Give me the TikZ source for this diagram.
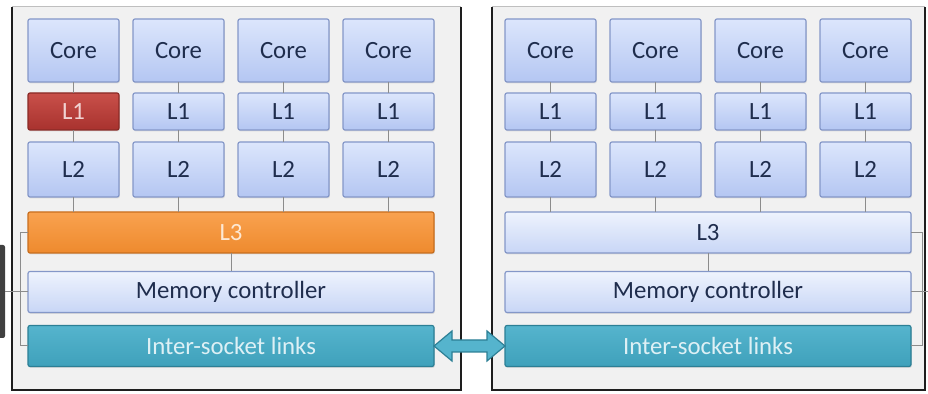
\documentclass[tikz,border=0pt]{standalone}
\usepackage{fontspec}
\setmainfont{Carlito}
\usetikzlibrary{positioning,calc,shadows}
\definecolor{boxtop}{HTML}{DCE6FC}
\definecolor{boxbot}{HTML}{B4C6F2}
\definecolor{boxedge}{HTML}{8497C8}
\definecolor{boxtext}{HTML}{1F2D4D}
\definecolor{paletop}{HTML}{EEF3FD}
\definecolor{palebot}{HTML}{C8D6F6}
\definecolor{hottop}{HTML}{C9504A}
\definecolor{hotbot}{HTML}{A8322E}
\definecolor{hotedge}{HTML}{8A2A26}
\definecolor{warmtop}{HTML}{F9A24F}
\definecolor{warmbot}{HTML}{EE8A2E}
\definecolor{warmedge}{HTML}{C86E1E}
\definecolor{linktop}{HTML}{55B4CD}
\definecolor{linkbot}{HTML}{3FA1BB}
\definecolor{linkedge}{HTML}{2C7F95}
\definecolor{panelbg}{HTML}{F1F1F1}
\definecolor{paneledge}{HTML}{1E1E1E}
\definecolor{wirecol}{HTML}{8C8C8C}

\begin{document}
\begin{tikzpicture}[x=0.5pt,y=-0.5pt,
  unit/.style={draw=boxedge,line width=0.6pt,top color=boxtop,bottom color=boxbot,
    text=boxtext,rounded corners=1pt,inner sep=0pt,outer sep=0pt,minimum width=45.5pt,
    font=\fontsize{12.4}{14}\selectfont,
    drop shadow={shadow xshift=0.4pt,shadow yshift=-0.7pt,opacity=0.2}},
  core/.style={unit,minimum height=31.5pt},
  lone/.style={unit,minimum height=18.5pt},
  ltwo/.style={unit,minimum height=27.5pt},
  wide/.style={unit,minimum width=203pt,minimum height=20.5pt},
  pale/.style={top color=paletop,bottom color=palebot},
  hot/.style={draw=hotedge,top color=hottop,bottom color=hotbot,text=hottop!25!white},
  warm/.style={draw=warmedge,top color=warmtop,bottom color=warmbot,text=warmtop!25!white},
  link/.style={draw=linkedge,top color=linktop,bottom color=linkbot,text=linktop!20!white},
  wire/.style={draw=wirecol,line width=0.5pt},
  dimm/.style={fill=black!75,rounded corners=1pt,minimum width=5pt,minimum height=46.5pt,inner sep=0pt},
  linkarrow/.style={draw=linkedge,fill=linktop,line width=0.6pt,line join=miter}]
\useasboundingbox (0,0) rectangle (928,394);
% sockets
\fill[panelbg] (12,7) rectangle (461,390);
\fill[panelbg] (492,7) rectangle (925,390);
\draw[black!25,line width=0.5pt] (12,7) -- (461,7) (492,7) -- (925,7);
\draw[paneledge,line width=1.4pt] (12,7) -- (12,390) -- (461,390) -- (461,7);
\draw[paneledge,line width=1.4pt] (492,7) -- (492,390) -- (925,390) -- (925,7);
\node[dimm] (dimm-a) at (0,291.5) {};
\coordinate (dimm-b) at (928,294);
%
% left socket
\node[core] (core-a1) at (73.5,50.5) {Core};
\node[core,right=7pt of core-a1] (core-a2) {Core};
\node[core,right=7pt of core-a2] (core-a3) {Core};
\node[core,right=7pt of core-a3] (core-a4) {Core};
\node[lone,hot,below=5.5pt of core-a1] (l1-a1) {L1};
\node[lone,below=5.5pt of core-a2] (l1-a2) {L1};
\node[lone,below=5.5pt of core-a3] (l1-a3) {L1};
\node[lone,below=5.5pt of core-a4] (l1-a4) {L1};
\node[ltwo,below=6pt of l1-a1] (l2-a1) {L2};
\node[ltwo,below=6pt of l1-a2] (l2-a2) {L2};
\node[ltwo,below=6pt of l1-a3] (l2-a3) {L2};
\node[ltwo,below=6pt of l1-a4] (l2-a4) {L2};
\node[wide,warm] (l3-a) at (231,232.5) {L3};
\node[wide,pale] (mc-a) at (231,292) {Memory controller};
\node[wide,link] (isl-a) at (231,346) {Inter-socket links};
%
% right socket
\node[core] (core-b1) at (550.5,50.5) {Core};
\node[core,right=7pt of core-b1] (core-b2) {Core};
\node[core,right=7pt of core-b2] (core-b3) {Core};
\node[core,right=7pt of core-b3] (core-b4) {Core};
\node[lone,below=5.5pt of core-b1] (l1-b1) {L1};
\node[lone,below=5.5pt of core-b2] (l1-b2) {L1};
\node[lone,below=5.5pt of core-b3] (l1-b3) {L1};
\node[lone,below=5.5pt of core-b4] (l1-b4) {L1};
\node[ltwo,below=6pt of l1-b1] (l2-b1) {L2};
\node[ltwo,below=6pt of l1-b2] (l2-b2) {L2};
\node[ltwo,below=6pt of l1-b3] (l2-b3) {L2};
\node[ltwo,below=6pt of l1-b4] (l2-b4) {L2};
\node[wide,pale] (l3-b) at (708,232.5) {L3};
\node[wide,pale] (mc-b) at (708,292) {Memory controller};
\node[wide,link] (isl-b) at (708,346) {Inter-socket links};
%
% wires
\draw[wire] (core-a1) -- (l1-a1) -- (l2-a1) -- (l2-a1 |- l3-a.north);
\draw[wire] (core-a2) -- (l1-a2) -- (l2-a2) -- (l2-a2 |- l3-a.north);
\draw[wire] (core-a3) -- (l1-a3) -- (l2-a3) -- (l2-a3 |- l3-a.north);
\draw[wire] (core-a4) -- (l1-a4) -- (l2-a4) -- (l2-a4 |- l3-a.north);
\draw[wire] (core-b1) -- (l1-b1) -- (l2-b1) -- (l2-b1 |- l3-b.north);
\draw[wire] (core-b2) -- (l1-b2) -- (l2-b2) -- (l2-b2 |- l3-b.north);
\draw[wire] (core-b3) -- (l1-b3) -- (l2-b3) -- (l2-b3 |- l3-b.north);
\draw[wire] (core-b4) -- (l1-b4) -- (l2-b4) -- (l2-b4 |- l3-b.north);
\draw[wire] (l3-a) -- (mc-a);
\draw[wire] (l3-b) -- (mc-b);
\draw[wire] (l3-a.west) -- ++(-8,0) |- (isl-a.west);
\draw[wire] (l3-b.east) -- ++(11,0) |- (isl-b.east);
\draw[wire] (mc-a.west) -- (mc-a.west -| dimm-a.east);
\draw[wire] (mc-b.east) -- (mc-b.east -| dimm-b);
%
\draw[linkarrow] (isl-a.east) -- ++(18,-15) -- ++(0,9) -- ($(isl-b.west)+(-18,-6)$)
  -- ++(0,-9) -- (isl-b.west) -- ++(-18,15) -- ++(0,-9) -- ($(isl-a.east)+(18,6)$)
  -- ++(0,9) -- cycle;
\end{tikzpicture}
\end{document}
